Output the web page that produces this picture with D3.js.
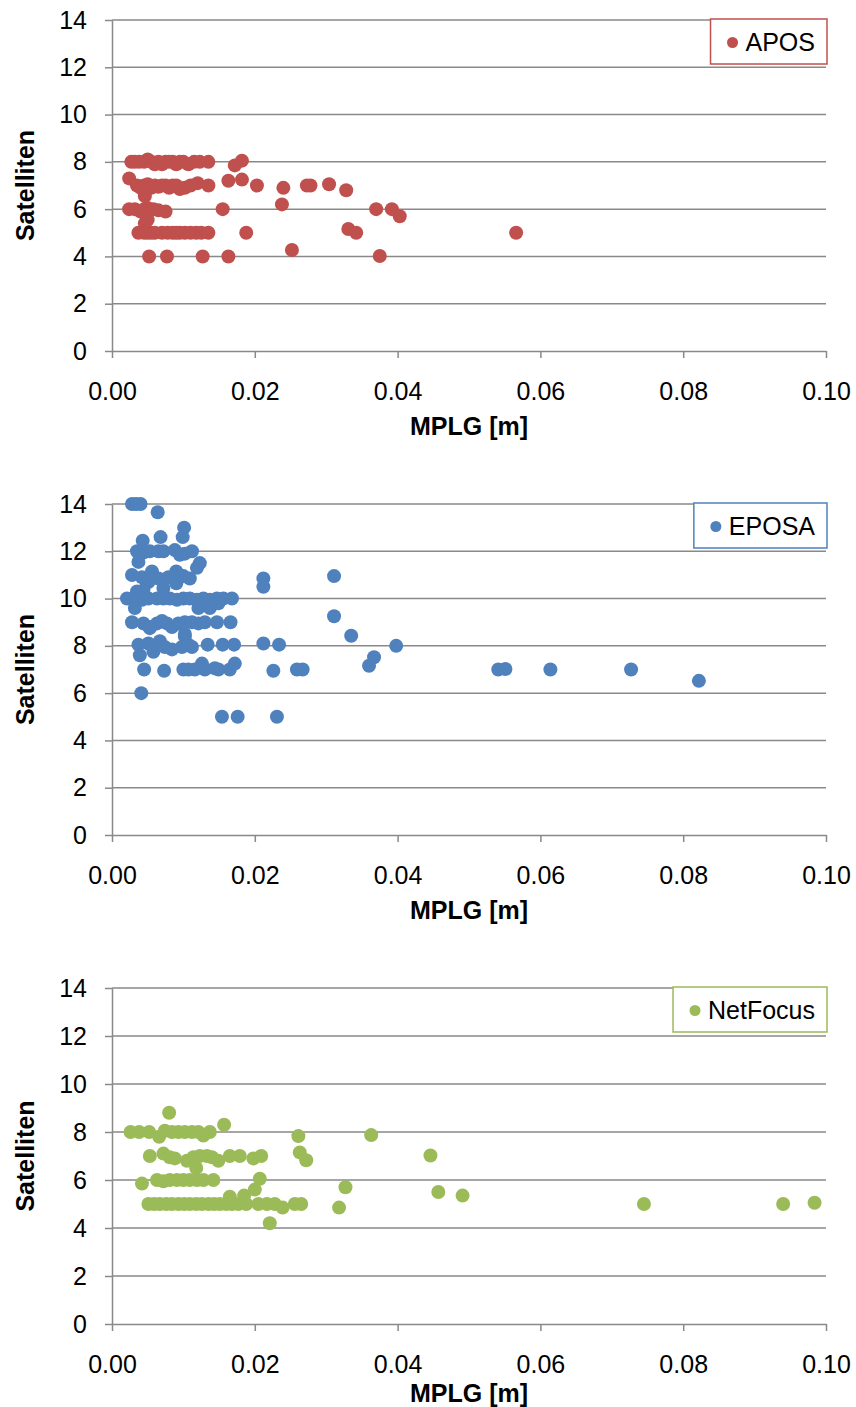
<!DOCTYPE html>
<html>
<head>
<meta charset="utf-8">
<script src="https://cdn.jsdelivr.net/npm/d3@7/dist/d3.min.js"></script>
<style>
  body { margin: 0; background: #fff; }
  svg { display: block; font-family: "Liberation Sans", Arial, sans-serif; }
</style>
</head>
<body>
<div id="app"></div>
<script>
var log = console.log;

const xTicks = [0, 0.02, 0.04, 0.06, 0.08, 0.10]
const yTicks = [0, 2, 4, 6, 8, 10, 12, 14]
const seriesNames = ['APOS', 'EPOSA', 'NetFocus']
const seriesColors = ['#C0504D', '#4F81BD', '#9BBB59']
const xTitle = 'MPLG [m]'
const yTitle = 'Satelliten'

// [MPLG, Satelliten]
const aposData = [
    [0.0027,8],[0.0032,8],[0.0038,8],[0.0045,8],[0.005,8.1],[0.0055,8],[0.006,7.9],[0.0065,8],[0.007,7.9],
    [0.0075,8],[0.008,8],[0.0085,8],[0.009,7.9],[0.0095,8],[0.01,8],[0.0107,7.9],[0.0115,8],[0.0123,8],
    [0.0135,8],[0.0172,7.85],[0.0182,8.05],
    [0.0024,7.3],[0.0035,7],[0.004,6.9],[0.0045,7],[0.005,7.05],[0.0055,6.9],[0.006,7],[0.0065,6.95],
    [0.007,7],[0.0075,7],[0.008,6.9],[0.0085,7],[0.009,7],[0.0095,6.85],[0.0102,6.9],[0.011,7],[0.012,7.1],
    [0.0135,7],[0.0163,7.2],[0.0182,7.25],[0.0203,7],[0.024,6.9],[0.0273,7],[0.0278,7],[0.0304,7.05],
    [0.0328,6.8],[0.0046,6.55],
    [0.0024,6],[0.0032,6],[0.004,5.9],[0.0045,6],[0.005,6.05],[0.0058,6],[0.0065,5.95],[0.0075,5.9],
    [0.0155,6],[0.0238,6.2],[0.037,6],[0.0392,6],[0.0403,5.7],
    [0.0046,5.4],[0.005,5.55],
    [0.0037,5],[0.0045,5],[0.005,5],[0.0055,5],[0.006,5],[0.007,5],[0.0078,5],[0.0085,5],[0.009,5],
    [0.0095,5],[0.0102,5],[0.011,5],[0.0118,5],[0.0125,5],[0.0135,5],[0.0188,5],[0.0331,5.16],[0.0342,5],
    [0.0566,5],
    [0.0052,4],[0.0077,4],[0.0127,4],[0.0163,4],[0.0252,4.27],[0.0375,4.02]
]

const eposaData = [
    [0.0028,14],[0.0034,14],[0.004,14],
    [0.0064,13.65],[0.0101,13],[0.0099,12.6],[0.0068,12.6],[0.0043,12.45],
    [0.0035,12],[0.0044,11.95],[0.0053,12],[0.0065,12],[0.0072,12],[0.0088,12.05],[0.0095,11.85],
    [0.0102,11.9],[0.0112,12],[0.0123,11.5],[0.0119,11.3],[0.0037,11.55],
    [0.0028,11],[0.0042,10.9],[0.0056,11.15],[0.0051,10.7],[0.0044,10.35],[0.0035,10.3],[0.0065,10.85],
    [0.0072,10.45],[0.0079,10.9],[0.009,11.15],[0.009,10.65],[0.01,10.95],[0.0109,10.85],[0.0212,10.85],
    [0.0212,10.5],
    [0.0021,10],[0.0035,10],[0.0042,9.95],[0.0051,10],[0.0063,10],[0.0072,10],[0.0081,10],[0.0091,9.95],
    [0.01,10],[0.0109,10],[0.0119,9.95],[0.0128,10],[0.0137,9.95],[0.0147,10],[0.0156,10],[0.0168,10],
    [0.0032,9.6],[0.0121,9.6],[0.0137,9.6],[0.0149,9.8],
    [0.0028,9],[0.0044,8.95],[0.0053,8.8],[0.0063,8.95],[0.007,9.05],[0.0077,8.95],[0.0084,8.8],
    [0.0093,8.95],[0.0102,9],[0.0112,9],[0.0121,8.95],[0.013,9],[0.0147,9],[0.0166,9],
    [0.0053,8.75],[0.0102,8.5],[0.0102,8.4],
    [0.0037,8.05],[0.0039,7.6],[0.0051,8.1],[0.0058,7.75],[0.0067,8.2],[0.0074,7.95],[0.0084,7.85],
    [0.0098,7.95],[0.0107,8.05],[0.0112,7.95],[0.0134,8.05],[0.0155,8.05],[0.0171,8.05],[0.0212,8.1],
    [0.0234,8.05],
    [0.0045,7],[0.0073,6.95],[0.01,7],[0.0107,7],[0.0116,7],[0.0126,7.25],[0.013,7],[0.0144,7.05],
    [0.0149,7],[0.0165,7],[0.0172,7.25],[0.0226,6.95],[0.0259,7],[0.0267,7],
    [0.0041,6],
    [0.0154,5],[0.0176,5],[0.0231,5],
    [0.0311,10.95],[0.0311,9.25],[0.0335,8.43],[0.0398,8],[0.0367,7.52],[0.036,7.16],[0.0541,7],
    [0.0551,7.02],[0.0614,7],[0.0727,7],[0.0822,6.52]
]

const netfocusData = [
    [0.008,8.8],[0.0157,8.3],
    [0.0026,8],[0.0038,8],[0.0052,8],[0.0066,7.8],[0.0074,8.05],[0.0084,8],[0.0093,8],[0.0102,8],
    [0.0112,8],[0.0121,8],[0.0128,7.85],[0.0137,8],
    [0.0261,7.83],[0.0363,7.87],[0.0263,7.15],[0.0272,6.82],[0.0446,7.02],
    [0.0053,7],[0.0072,7.1],[0.0081,6.95],[0.0088,6.9],[0.0105,6.8],[0.0114,6.95],[0.0123,7],[0.0133,7],
    [0.014,6.95],[0.0149,6.8],[0.0165,7],[0.0179,7],[0.0198,6.9],[0.0209,7],
    [0.0118,6.5],
    [0.0042,5.85],[0.0063,6],[0.0072,5.95],[0.0081,6],[0.0091,6],[0.01,6],[0.0109,6],[0.0119,6],
    [0.0128,6],[0.0142,6],[0.0207,6.05],[0.02,5.6],
    [0.0051,5],[0.0059,5],[0.0067,5],[0.0076,5],[0.0084,5],[0.0093,5],[0.0101,5],[0.0109,5],[0.0118,5],
    [0.0126,5],[0.0135,5],[0.0143,5],[0.0151,5],[0.016,5],[0.0168,5],[0.0177,5],[0.0188,5],[0.0165,5.3],
    [0.0185,5.35],[0.0205,5],[0.0217,5],[0.0228,5],[0.0239,4.85],[0.0256,5],[0.0265,5],
    [0.0221,4.2],[0.0327,5.7],[0.0457,5.5],[0.0491,5.35],[0.0318,4.85],[0.0745,5],[0.094,5],[0.0984,5.05]
]

const allData = [aposData, eposaData, netfocusData]

const render = () => {
    const width = 856
    const height = 1407
    const left = 112
    const right = 826
    const fontSize = 25
    const gridColor = '#898989'

    // per panel layout: plot top/bottom and distance of the x title baseline
    const panels = [
        { top: 20, bottom: 351, titleGap: 84 },
        { top: 504, bottom: 835, titleGap: 84 },
        { top: 988, bottom: 1324, titleGap: 78 },
    ]

    const svg = d3.select('#app').append('svg')
        .attr('width', width)
        .attr('height', height)
        .attr('viewBox', `0 0 ${width} ${height}`)

    svg.append('rect').attr('width', width).attr('height', height).attr('fill', '#fff')

    const x = d3.scaleLinear().domain([0, 0.1]).range([left, right])

    panels.forEach((p, i) => {
        const y = d3.scaleLinear().domain([0, 14]).range([p.bottom, p.top])
        const g = svg.append('g')

        // grid
        g.append('g').selectAll('line')
            .data(yTicks.filter(d => d > 0))
            .join('line')
            .attr('x1', left).attr('x2', right)
            .attr('y1', d => y(d)).attr('y2', d => y(d))
            .attr('stroke', gridColor).attr('stroke-width', 1.5)

        const yAxis = g.append('g')
            .attr('transform', `translate(${left},0)`)
            .call(d3.axisLeft(y).tickValues(yTicks).tickSizeInner(7).tickSizeOuter(0).tickPadding(18).tickFormat(d3.format('d')))
        const xAxis = g.append('g')
            .attr('transform', `translate(0,${p.bottom})`)
            .call(d3.axisBottom(x).tickValues(xTicks).tickSizeInner(7).tickSizeOuter(0).tickPadding(24).tickFormat(d3.format('.2f')))

        ;[yAxis, xAxis].forEach(a => {
            a.selectAll('path, line').attr('stroke', gridColor).attr('stroke-width', 1.5)
            a.selectAll('text').attr('fill', '#000').attr('font-size', fontSize)
                .attr('font-family', '"Liberation Sans", Arial, sans-serif')
        })

        // axis titles
        g.append('text')
            .attr('x', (left + right) / 2)
            .attr('y', p.bottom + p.titleGap)
            .attr('text-anchor', 'middle')
            .attr('font-size', fontSize)
            .attr('font-weight', 'bold')
            .text(xTitle)

        g.append('text')
            .attr('transform', `translate(34,${(p.top + p.bottom) / 2}) rotate(-90)`)
            .attr('text-anchor', 'middle')
            .attr('font-size', fontSize)
            .attr('font-weight', 'bold')
            .text(yTitle)

        // points
        g.append('g').selectAll('circle')
            .data(allData[i])
            .join('circle')
            .attr('cx', d => x(d[0]))
            .attr('cy', d => y(d[1]))
            .attr('r', 7)
            .attr('fill', seriesColors[i])

        // legend
        const lg = g.append('g')
        const box = lg.append('rect')
        const label = lg.append('text')
            .attr('font-size', fontSize)
            .attr('fill', '#000')
            .text(seriesNames[i])
        const tw = label.node().getComputedTextLength()
        const bw = tw + 47
        const bx = 827 - bw
        const by = p.top - 1
        const bh = 45
        box.attr('x', bx).attr('y', by).attr('width', bw).attr('height', bh)
            .attr('fill', '#fff').attr('stroke', seriesColors[i]).attr('stroke-width', 1.5)
        label.attr('x', bx + 35).attr('y', by + bh / 2 + 9)
        lg.append('circle')
            .attr('cx', bx + 22).attr('cy', by + bh / 2 + 1)
            .attr('r', 5.5).attr('fill', seriesColors[i])
    })
}
render();
</script>
</body>
</html>
